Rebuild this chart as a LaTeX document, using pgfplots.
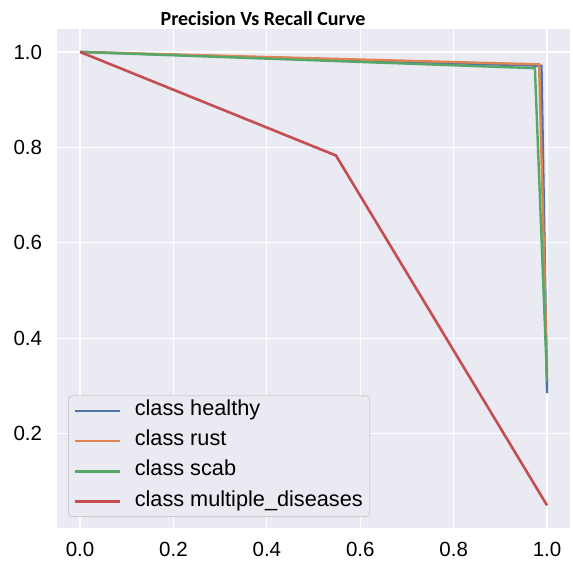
\documentclass[border=0pt]{standalone}
\usepackage{fontspec}
\setmainfont{Liberation Sans}
\newfontfamily\carlito{Carlito}
\usepackage{pgfplots}
\pgfplotsset{compat=1.18}
\definecolor{sbblue}{HTML}{4C72B0}
\definecolor{sborange}{HTML}{DD8452}
\definecolor{sbgreen}{HTML}{55A868}
\definecolor{sbred}{HTML}{C44E52}
\definecolor{sbbg}{HTML}{EAEAF2}
\definecolor{legedge}{HTML}{CCCCCC}
\begin{document}
\begin{tikzpicture}
\begin{axis}[
  at={(0pt,0pt)}, anchor=south west,
  scale only axis, width=513.7pt, height=498.7pt,
  xmin=-0.05, xmax=1.05, ymin=0.0025, ymax=1.0475,
  axis background/.style={fill=sbbg},
  axis line style={draw=none},
  grid=major, major grid style={white, line width=1.2pt},
  major tick length=0pt,
  xtick={0,0.2,0.4,0.6,0.8,1.0}, ytick={0.2,0.4,0.6,0.8,1.0},
  /pgf/number format/assume math mode=true,
  /pgf/number format/.cd, fixed, fixed zerofill, precision=1, /pgfplots/.cd,
  ticklabel style={font=\fontsize{20.5}{24}\selectfont, inner sep=0pt},
  xticklabel style={anchor=north, yshift=-13.7pt},
  yticklabel style={anchor=east, xshift=-14.5pt},
  legend style={at={(0.022,0.022)}, anchor=south west, fill=sbbg, draw=legedge,
    line width=0.8pt, rounded corners=4pt, inner xsep=5pt, inner ysep=3pt,
    font=\fontsize{21.7}{25}\selectfont, row sep=6.3pt, column sep=12pt,
    nodes={inner sep=2pt, text height=14.5pt, text depth=5.5pt}},
  legend cell align=left,
  legend image code/.code={\draw[#1, line width=2.4pt] (0pt,0pt) -- (45pt,0pt);},
]
\addplot[sbblue, line width=2.4pt] coordinates {(0,1) (0.988,0.971) (1.0,0.285)};
\addlegendentry{class healthy}
\addplot[sborange, line width=2.4pt] coordinates {(0,1) (0.983,0.974) (1.0,0.33)};
\addlegendentry{class rust}
\addplot[sbgreen, line width=2.4pt] coordinates {(0,1) (0.974,0.966) (1.0,0.31)};
\addlegendentry{class scab}
\addplot[sbred, line width=2.6pt] coordinates {(0,1) (0.548,0.783) (1.0,0.050)};
\addlegendentry{class multiple\_diseases}
\end{axis}
\node[anchor=base, inner sep=0pt, font={\carlito\bfseries\fontsize{20}{24}\selectfont}] at (206.3pt,502pt) {Precision Vs Recall Curve};
\pgfresetboundingbox
\useasboundingbox (-56.7pt,-32pt) rectangle (516.3pt,528pt);
\end{tikzpicture}
\end{document}
